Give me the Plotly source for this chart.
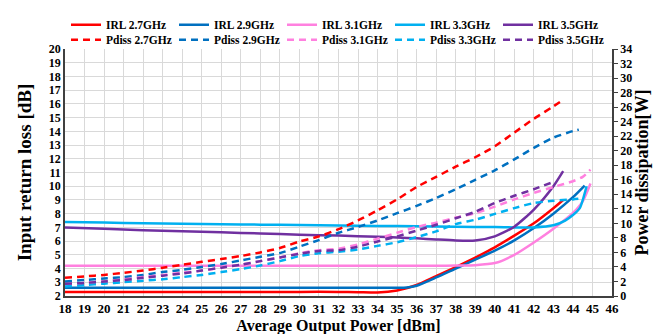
import plotly.graph_objects as go

# ---------------- data ----------------
x_irl_27 = [18, 20, 22, 24, 26, 28, 30, 32, 33, 34, 35, 36, 37, 38, 39, 40, 41, 42, 43, 43.5]
irl_27 = [2.3, 2.3, 2.3, 2.3, 2.3, 2.3, 2.3, 2.3, 2.28, 2.25, 2.4, 2.8, 3.45, 4.1, 4.8, 5.55, 6.4, 7.3, 8.4, 9.0]

x_irl_29 = [18, 20, 22, 24, 26, 28, 30, 32, 34, 35, 35.5, 36, 37, 38, 39, 40, 41, 42, 43, 44, 44.6]
irl_29 = [2.6, 2.6, 2.6, 2.6, 2.6, 2.6, 2.6, 2.6, 2.6, 2.6, 2.62, 2.75, 3.35, 4.0, 4.65, 5.3, 6.05, 6.95, 8.0, 9.2, 10.05]

x_irl_31 = [18, 20, 22, 24, 26, 28, 30, 32, 34, 36, 37, 38, 39, 40, 41, 42, 43, 44, 44.5, 44.9]
irl_31 = [4.2, 4.2, 4.2, 4.2, 4.2, 4.2, 4.2, 4.2, 4.2, 4.2, 4.2, 4.22, 4.25, 4.4, 5.0, 5.9, 6.9, 8.05, 8.9, 10.2]

x_irl_33 = [18, 20, 22, 24, 26, 28, 30, 32, 34, 36, 38, 40, 41, 42, 43, 43.6, 44, 44.35, 44.7]
irl_33 = [7.4, 7.35, 7.3, 7.27, 7.23, 7.2, 7.17, 7.14, 7.11, 7.08, 7.05, 7.02, 7.0, 7.0, 7.15, 7.5, 7.9, 8.4, 10.0]

x_irl_35 = [18, 20, 22, 24, 26, 28, 30, 32, 34, 35, 36, 37, 38, 39, 40, 41, 42, 43, 43.5]
irl_35 = [7.0, 6.9, 6.8, 6.72, 6.64, 6.56, 6.47, 6.4, 6.32, 6.27, 6.2, 6.12, 6.05, 6.05, 6.35, 7.05, 8.3, 10.0, 11.1]

x_pd_27 = [18, 19, 20, 21, 22, 23, 24, 25, 26, 27, 28, 29, 30, 31, 32, 33, 34, 35, 36, 37, 38, 39, 40, 41, 42, 43, 43.5]
pd_27 = [2.5, 2.7, 2.9, 3.2, 3.5, 3.9, 4.3, 4.7, 5.1, 5.5, 6.0, 6.6, 7.5, 8.2, 9.2, 10.4, 11.8, 13.3, 15.0, 16.4, 17.8, 19.1, 20.6, 22.5, 24.4, 26.1, 27.0]

x_pd_29 = [18, 19, 20, 21, 22, 23, 24, 25, 26, 27, 28, 29, 30, 31, 32, 33, 34, 35, 36, 37, 38, 39, 40, 41, 42, 43, 44, 44.3]
pd_29 = [2.0, 2.2, 2.4, 2.6, 2.9, 3.3, 3.6, 4.0, 4.4, 4.9, 5.4, 5.9, 6.8, 7.7, 8.7, 9.5, 10.4, 11.4, 12.4, 13.5, 14.7, 16.0, 17.3, 18.8, 20.4, 21.8, 22.7, 22.9]

x_pd_31 = [18, 19, 20, 21, 22, 23, 24, 25, 26, 27, 28, 29, 30, 31, 32, 33, 34, 35, 36, 37, 38, 39, 40, 41, 42, 43, 44, 44.5, 44.9]
pd_31 = [1.6, 1.8, 2.0, 2.3, 2.6, 2.9, 3.2, 3.5, 3.9, 4.3, 4.8, 5.3, 5.9, 6.3, 6.5, 7.1, 7.9, 8.7, 9.5, 10.1, 10.8, 11.4, 12.3, 13.3, 14.2, 15.0, 15.8, 16.4, 17.4]

x_pd_33 = [18, 19, 20, 21, 22, 23, 24, 25, 26, 27, 28, 29, 30, 31, 32, 33, 34, 35, 36, 37, 38, 39, 40, 41, 42, 43, 44, 44.5]
pd_33 = [1.3, 1.5, 1.7, 1.9, 2.1, 2.3, 2.6, 2.9, 3.3, 3.7, 4.2, 4.8, 5.5, 5.9, 6.1, 6.4, 6.9, 7.4, 8.1, 8.9, 9.9, 10.5, 11.3, 12.1, 12.8, 13.1, 13.3, 13.45]

x_pd_35 = [18, 19, 20, 21, 22, 23, 24, 25, 26, 27, 28, 29, 30, 31, 32, 33, 34, 35, 36, 37, 38, 39, 40, 41, 42, 43]
pd_35 = [1.7, 1.8, 2.0, 2.2, 2.5, 2.8, 3.1, 3.5, 3.9, 4.3, 4.8, 5.3, 5.8, 6.2, 6.3, 6.8, 7.5, 8.2, 9.0, 9.8, 10.7, 11.6, 12.8, 13.8, 14.7, 15.7]

freqs = ["2.7GHz", "2.9GHz", "3.1GHz", "3.3GHz", "3.5GHz"]
colors = ["#FF0000", "#0070C0", "#FF80DF", "#00B0F0", "#7030A0"]

x_tick_vals = list(range(18, 47))
y_left_ticks = list(range(2, 21))
y_right_ticks = list(range(0, 35, 2))

# ---------------- figure ----------------
FONT = "Liberation Serif"
W, H = 661, 334
fig = go.Figure()

irl_sets = [(x_irl_27, irl_27), (x_irl_29, irl_29), (x_irl_31, irl_31), (x_irl_33, irl_33), (x_irl_35, irl_35)]
pd_sets = [(x_pd_27, pd_27), (x_pd_29, pd_29), (x_pd_31, pd_31), (x_pd_33, pd_33), (x_pd_35, pd_35)]

legend_font = dict(family=FONT, size=11.5, color="#000000", weight="bold")
legend_layouts = {}


def legend_name(k):
    return "legend" if k == 1 else f"legend{k}"


def legend_spec(col, row):
    return dict(orientation="h", xref="container", yref="container",
                xanchor="left", yanchor="middle",
                x=(58 + 108 * col) / W, y=1 - (16.7 + 15 * row) / H,
                font=legend_font, bgcolor="rgba(0,0,0,0)", borderwidth=0)


for i, ((xs, ys), f, c) in enumerate(zip(irl_sets, freqs, colors)):
    name = legend_name(i + 1)
    legend_layouts[name] = legend_spec(i, 0)
    fig.add_trace(go.Scatter(x=xs, y=ys, mode="lines", name="IRL " + f, legend=name,
                             line=dict(color=c, width=2.5, shape="spline", smoothing=0.6)))
for i, ((xs, ys), f, c) in enumerate(zip(pd_sets, freqs, colors)):
    name = legend_name(i + 6)
    legend_layouts[name] = legend_spec(i, 1)
    fig.add_trace(go.Scatter(x=xs, y=ys, mode="lines", name="Pdiss " + f, yaxis="y2", legend=name,
                             line=dict(color=c, width=2.5, dash="7px,5px", shape="spline", smoothing=0.6)))

tickfont_y = dict(family=FONT, size=12, color="#000000", weight="bold")
tickfont_x = dict(family=FONT, size=13, color="#000000", weight="bold")
fig.update_layout(
    width=W, height=H,
    margin=dict(l=57, r=57, t=41, b=46, autoexpand=False),
    paper_bgcolor="white", plot_bgcolor="white",
    font=dict(family=FONT, color="#000000"),
    showlegend=True,
    xaxis=dict(range=[18, 46], tickvals=x_tick_vals, showgrid=True, gridcolor="#D9D9D9", gridwidth=1,
               showline=True, linecolor="#404040", linewidth=1.5, zeroline=False,
               ticks="", tickfont=tickfont_x,
               title=dict(text="Average Output Power [dBm]", font=dict(family=FONT, size=16, weight="bold"), standoff=4)),
    yaxis=dict(range=[2, 20], tickvals=y_left_ticks, showgrid=True, gridcolor="#D9D9D9", gridwidth=1,
               showline=True, linecolor="#404040", linewidth=1.5, zeroline=False,
               ticks="", tickfont=tickfont_y,
               title=dict(text="Input return loss [dB]", font=dict(family=FONT, size=19, weight="bold"), standoff=12)),
    yaxis2=dict(range=[0, 34], tickvals=y_right_ticks, overlaying="y", side="right", showgrid=False,
                showline=True, linecolor="#404040", linewidth=1.5, zeroline=False,
                ticks="outside", ticklen=4, tickcolor="#404040", tickfont=tickfont_y,
                title=dict(text="Power dissipation[W]", font=dict(family=FONT, size=18, weight="bold"), standoff=4)),
)
fig.update_layout(**legend_layouts)

fig.write_html("out.html")
